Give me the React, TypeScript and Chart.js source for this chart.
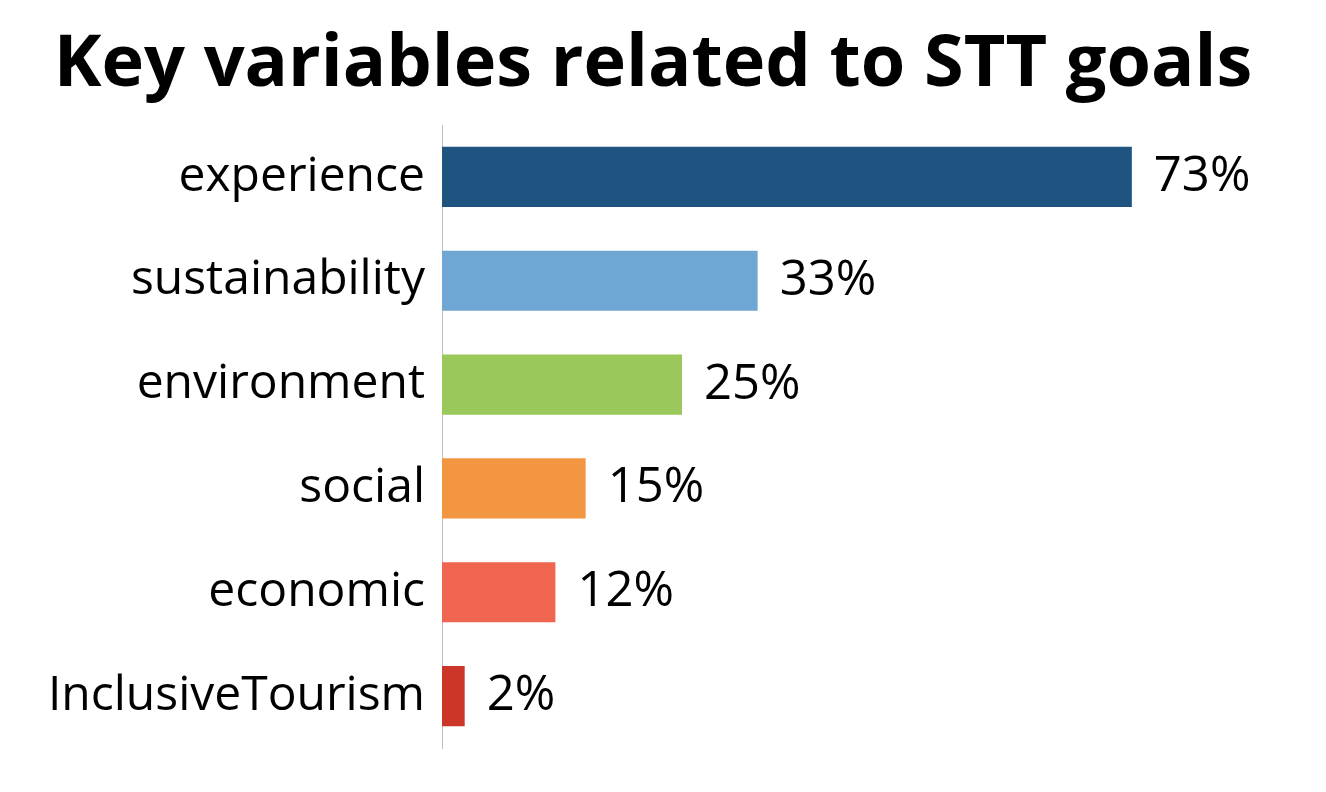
import React, { useEffect, useRef } from "react";
import { Chart, registerables } from "chart.js";

Chart.register(...registerables);

const categories = ["experience", "sustainability", "environment", "social", "economic", "InclusiveTourism"];
const values = [73, 33.4, 25.4, 15.2, 12.0, 2.4];
const colors = ["#1f5380", "#6fa6d4", "#9bc85a", "#f39642", "#ef6550", "#cc3628"];
const titleText = "Key variables related to STT goals";

const FONT = "'Open Sans', 'Noto Sans', sans-serif";

export default function App() {
  const ref = useRef<HTMLCanvasElement | null>(null);
  useEffect(() => {
    if (!ref.current) return;
    const valueLabels = {
      id: "valueLabels",
      afterDatasetsDraw(chart: any) {
        const ctx = chart.ctx;
        const meta = chart.getDatasetMeta(0);
        ctx.save();
        ctx.font = `49px ${FONT}`;
        ctx.fillStyle = "#000";
        ctx.textAlign = "left";
        ctx.textBaseline = "middle";
        meta.data.forEach((bar: any, i: number) => {
          ctx.fillText(Math.round(values[i]) + "%", bar.x + 22, bar.y);
        });
        ctx.restore();
      },
    };
    const titlePlugin = {
      id: "titleDraw",
      afterDraw(chart: any) {
        const ctx = chart.ctx;
        ctx.save();
        ctx.font = `bold 72px ${FONT}`;
        ctx.fillStyle = "#000";
        ctx.textAlign = "center";
        ctx.textBaseline = "alphabetic";
        ctx.fillText(titleText, 645, 78);
        ctx.restore();
      },
    };
    const chart = new Chart(ref.current, {
      type: "bar",
      data: {
        labels: categories,
        datasets: [
          {
            data: values,
            backgroundColor: colors,
            borderWidth: 0,
            barPercentage: 0.58,
            categoryPercentage: 1,
          },
        ],
      },
      options: {
        indexAxis: "y",
        responsive: false,
        animation: false,
        layout: { padding: { top: 117, bottom: 36, left: 0, right: 120 } },
        plugins: { legend: { display: false }, tooltip: { enabled: false }, title: { display: false } },
        scales: {
          x: { display: false, min: 0, max: 80 },
          y: {
            afterFit: (scale: any) => {
              scale.width = 434;
              scale.paddingTop = 0;
              scale.paddingBottom = 0;
            },
            grid: { display: false, drawTicks: false },
            border: { display: true, color: "#bfbfbf", width: 1 },
            ticks: { color: "#000", font: { family: FONT, size: 48 }, padding: 17 },
          },
        },
      },
      plugins: [valueLabels, titlePlugin],
    });
    return () => chart.destroy();
  }, []);
  return <canvas ref={ref} width={1310} height={776} style={{ display: "block" }} />;
}
